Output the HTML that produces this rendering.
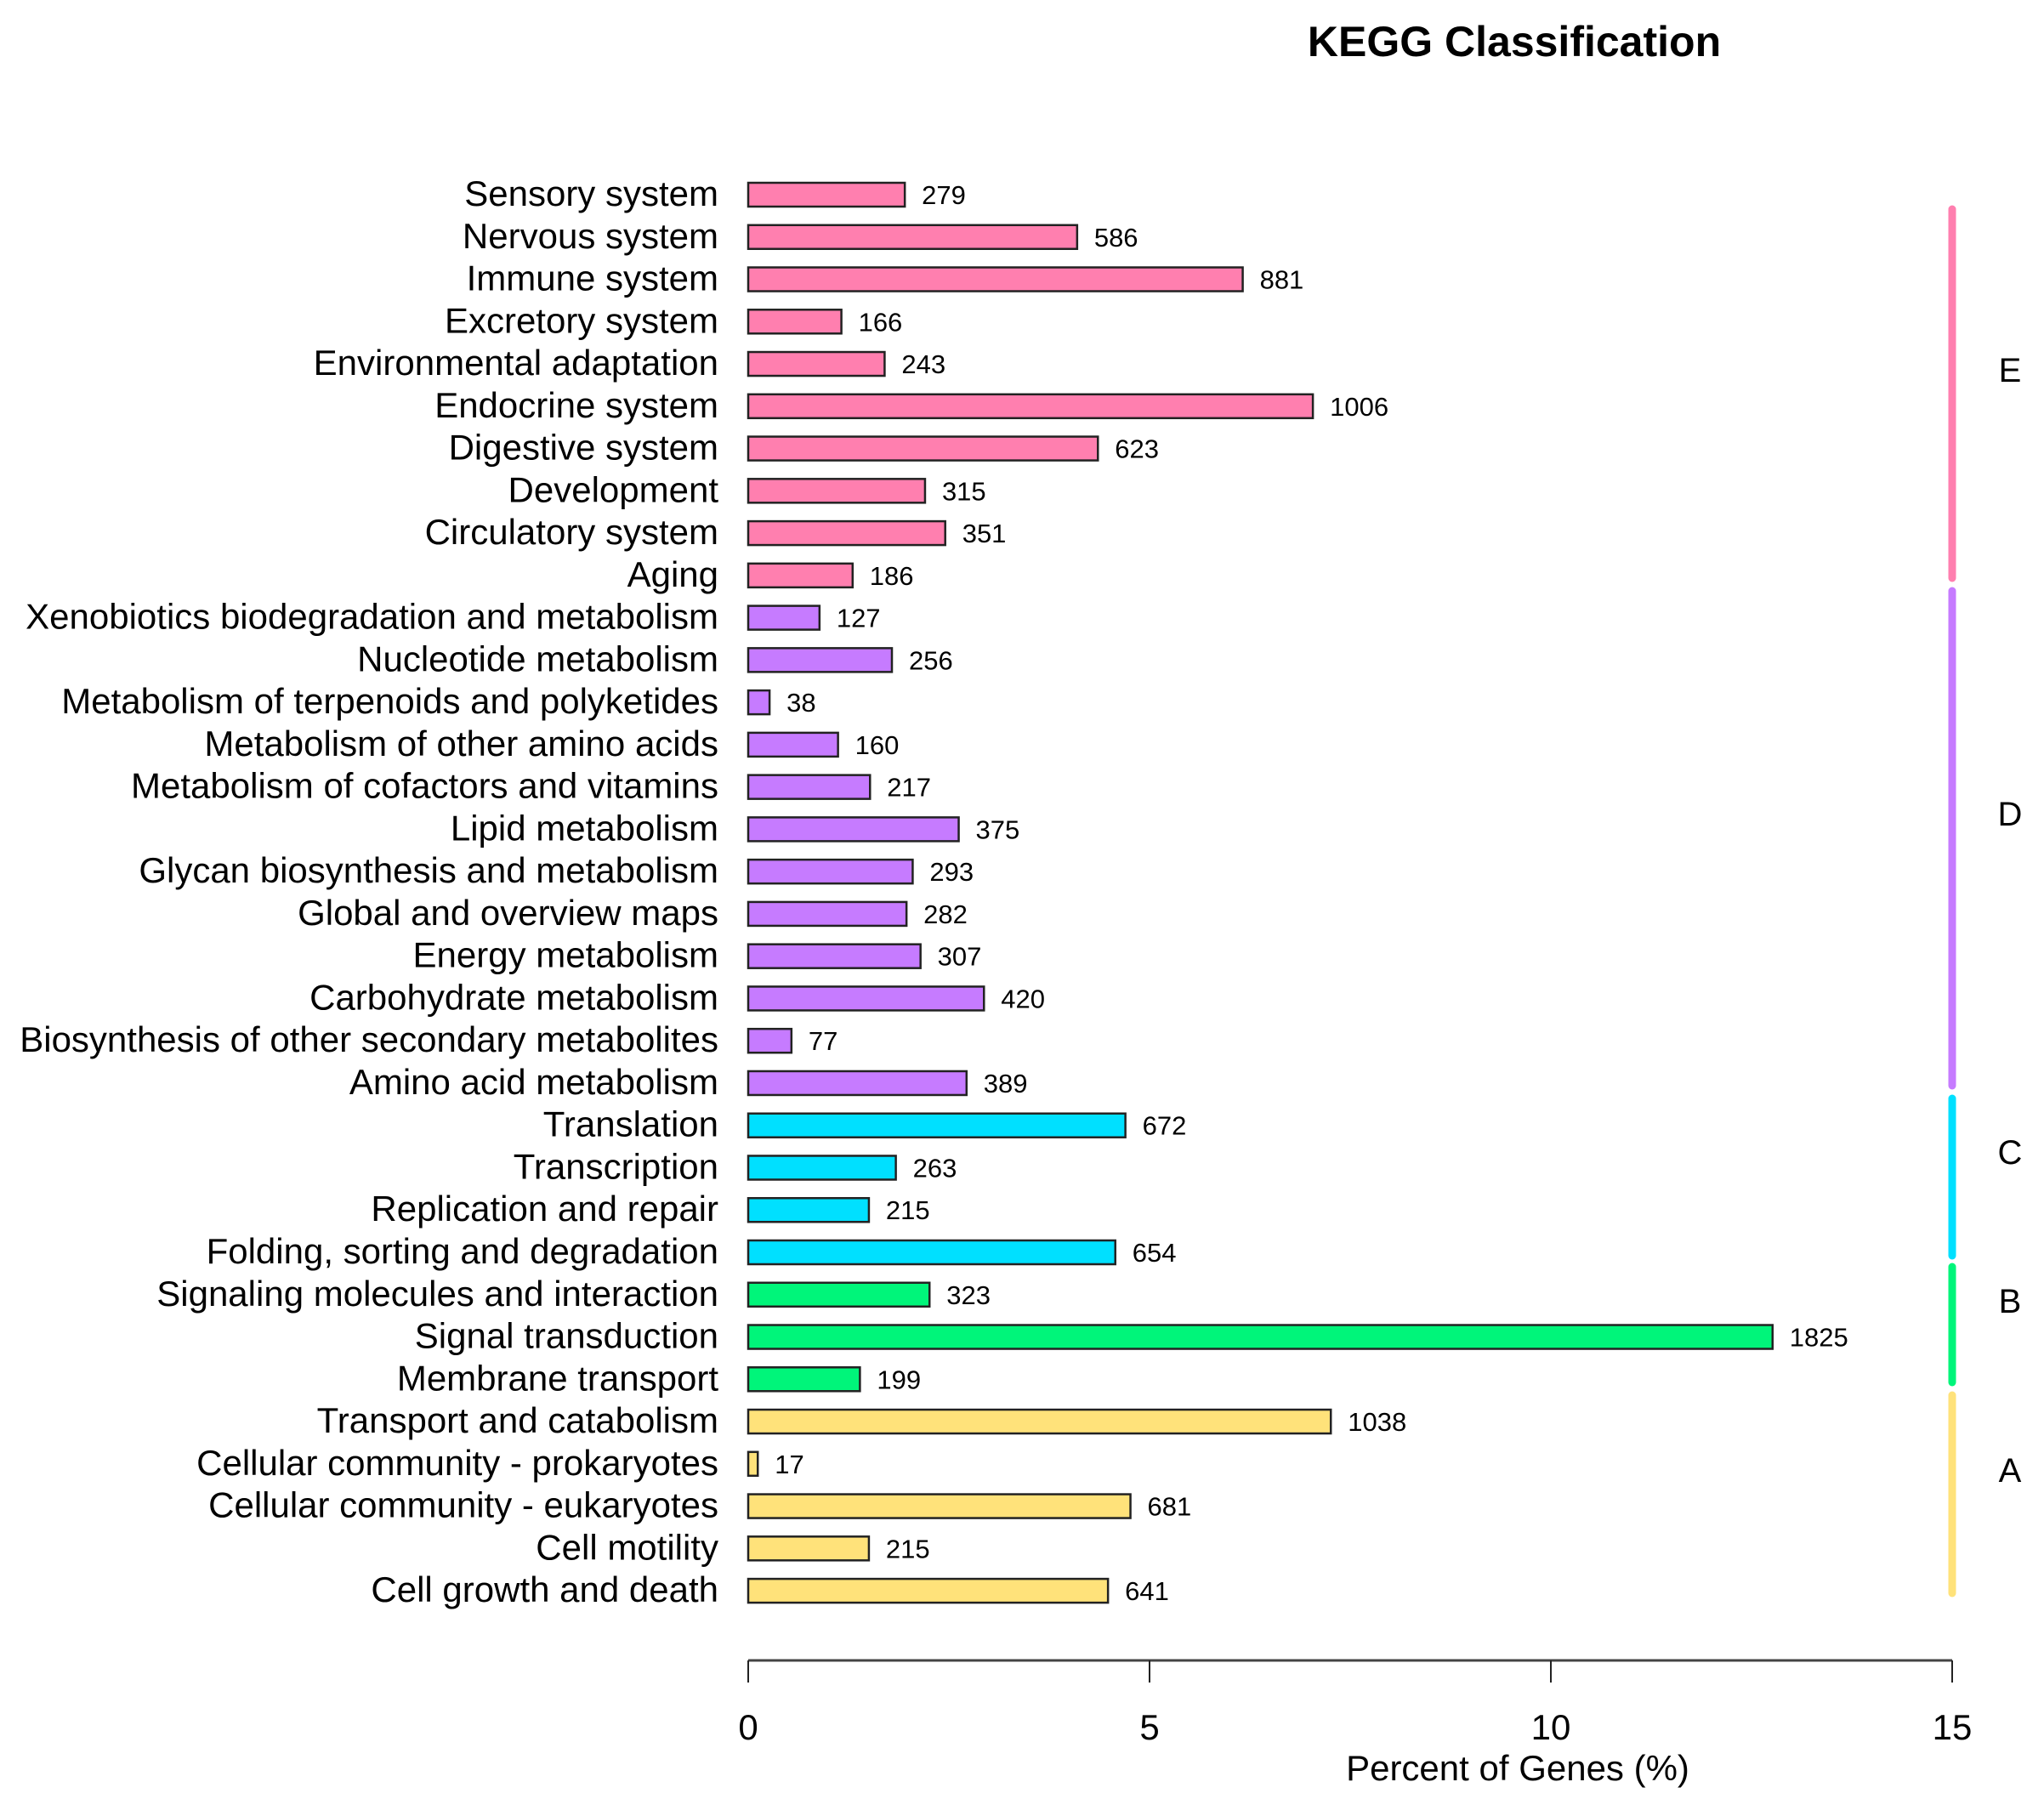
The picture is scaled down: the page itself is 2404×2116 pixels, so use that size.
<!DOCTYPE html>
<html><head><meta charset="utf-8"><style>
html,body{margin:0;padding:0;background:#fff}
svg{display:block;font-family:"Liberation Sans",Arial,sans-serif}
</style></head><body>
<svg id="chart" width="2404" height="2116" viewBox="0 0 2404 2116" xmlns="http://www.w3.org/2000/svg">
<text x="1781" y="66" font-size="50" font-weight="bold" text-anchor="middle">KEGG Classification</text>
<g id="bars"></g>
<g id="axis"></g>
<g id="groups"></g>
</svg>
<script>
const categories = ["Sensory system","Nervous system","Immune system","Excretory system","Environmental adaptation","Endocrine system","Digestive system","Development","Circulatory system","Aging","Xenobiotics biodegradation and metabolism","Nucleotide metabolism","Metabolism of terpenoids and polyketides","Metabolism of other amino acids","Metabolism of cofactors and vitamins","Lipid metabolism","Glycan biosynthesis and metabolism","Global and overview maps","Energy metabolism","Carbohydrate metabolism","Biosynthesis of other secondary metabolites","Amino acid metabolism","Translation","Transcription","Replication and repair","Folding, sorting and degradation","Signaling molecules and interaction","Signal transduction","Membrane transport","Transport and catabolism","Cellular community - prokaryotes","Cellular community - eukaryotes","Cell motility","Cell growth and death"];
const geneCounts = [279,586,881,166,243,1006,623,315,351,186,127,256,38,160,217,375,293,282,307,420,77,389,672,263,215,654,323,1825,199,1038,17,681,215,641];
const groupOf = ["E","E","E","E","E","E","E","E","E","E","D","D","D","D","D","D","D","D","D","D","D","D","C","C","C","C","B","B","B","A","A","A","A","A"];
const groupNames = ["E","D","C","B","A"];
const groupColors = {E:"#FF7FAF",D:"#C67BFF",C:"#00E0FF",B:"#00F57A",A:"#FFE27A"};
const xTicks = [0,5,10,15];
const totalGenes = 14300;

const NS="http://www.w3.org/2000/svg";
const x0=880, x1=2296, xMax=15;
const xs = p => x0 + (p/xMax)*(x1-x0);
const yTop=229, yStep=49.76, barH=28;
const yc = i => yTop + i*yStep;
// bracket layout (pixels) per group: top, bottom, label center
const bracketLayout = {E:[246,680,434],D:[695,1277,956],C:[1292,1477,1354],B:[1490,1626,1529],A:[1641,1874,1728]};
function mk(tag, attrs, parent){const e=document.createElementNS(NS,tag);for(const k in attrs)e.setAttribute(k,attrs[k]);parent.appendChild(e);return e;}
const gb=document.getElementById('bars');
categories.forEach((c,i)=>{
  const v=geneCounts[i], pct=v/totalGenes*100, col=groupColors[groupOf[i]];
  const t=mk('text',{x:845,y:yc(i)+13,'font-size':42,'text-anchor':'end',fill:'#000'},gb);
  t.textContent=c;
  
  
  const r=mk('rect',{x:x0,y:yc(i)-barH/2,width:xs(pct)-x0,height:barH,fill:col,stroke:'#222','stroke-width':2.5},gb);
  
  
  const vt=mk('text',{x:xs(pct)+20,y:yc(i)+11,'font-size':31,fill:'#000'},gb);
  vt.textContent=v;
  
  
});
const ga=document.getElementById('axis');
const al=mk('line',{x1:x0,x2:x1,y1:1953,y2:1953,stroke:'#444','stroke-width':3},ga);


xTicks.forEach(t=>{
  const l=mk('line',{x1:xs(t),x2:xs(t),y1:1953,y2:1979,stroke:'#222','stroke-width':2},ga);
  
  
  const tx=mk('text',{x:xs(t),y:2046,'font-size':42,'text-anchor':'middle'},ga);
  tx.textContent=t;
  
  
});
const at=mk('text',{x:1785,y:2094,'font-size':42,'text-anchor':'middle'},ga);
at.textContent='Percent of Genes (%)';


const gg=document.getElementById('groups');
groupNames.forEach(g=>{
  const [a,b,m]=bracketLayout[g];
  const l=mk('line',{x1:2296,x2:2296,y1:a,y2:b,stroke:groupColors[g],'stroke-width':9,'stroke-linecap':'round'},gg);
  
  
  const t=mk('text',{x:2364,y:m+15,'font-size':40,'text-anchor':'middle'},gg);
  t.textContent=g;
  
  
});
</script>
</body></html>
